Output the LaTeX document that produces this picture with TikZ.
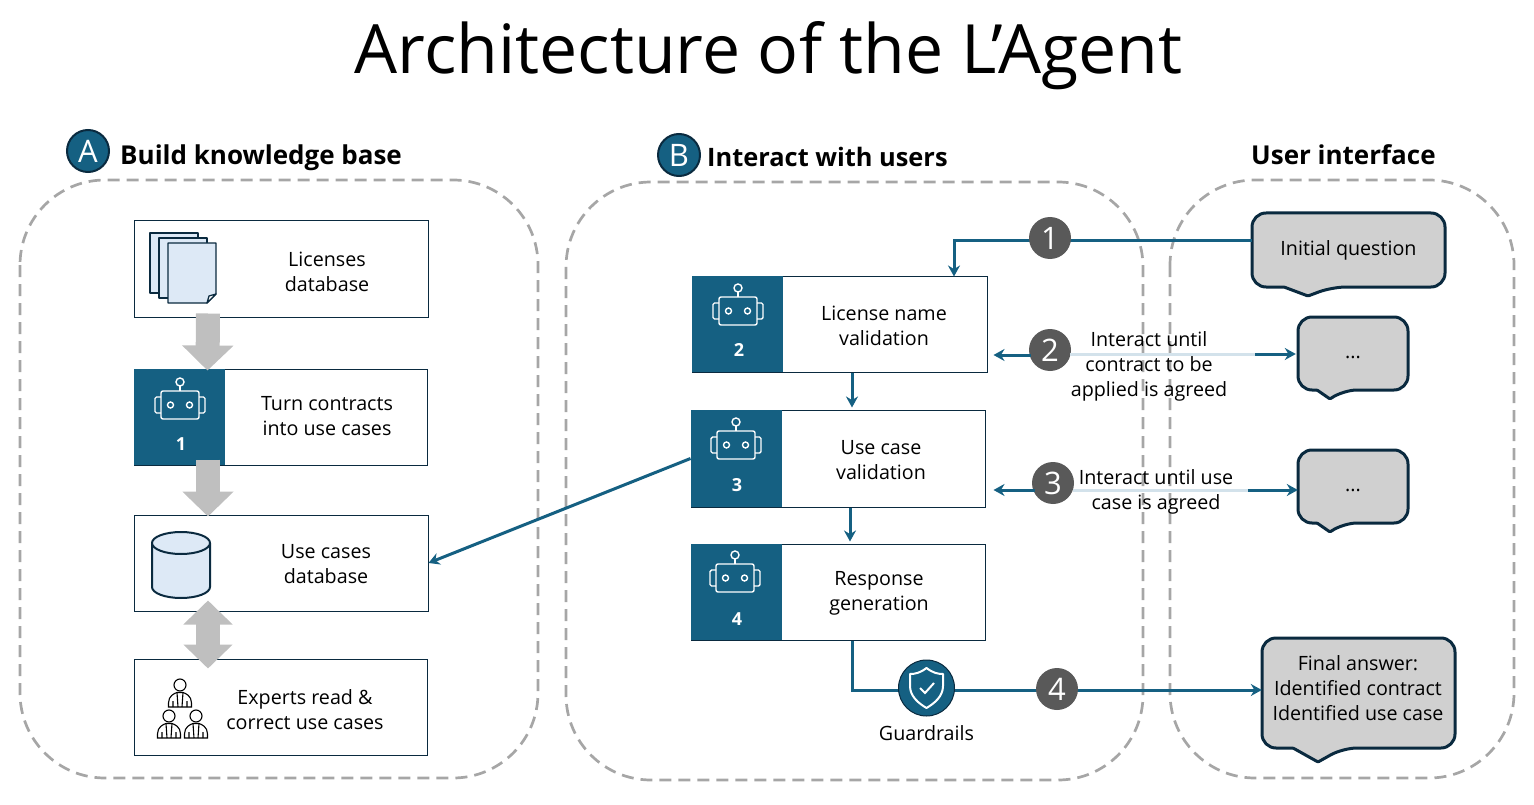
\documentclass[tikz,border=0pt]{standalone}
\usepackage{fontspec}
\setmainfont{Open Sans}
\usetikzlibrary{arrows.meta, positioning, calc}

\definecolor{teal}{HTML}{156082}
\definecolor{navy}{HTML}{0A2A3F}
\definecolor{paper}{HTML}{DDE9F6}
\definecolor{bubble}{HTML}{D0D0D0}
\definecolor{fade}{HTML}{D3E2EB}

\tikzset{
  region/.style={draw=black!35,line width=2.7pt,dash pattern=on 12pt off 7pt,rounded corners=85pt},
  boxnode/.style={draw=navy,line width=1pt,minimum width=294pt,minimum height=96pt,inner sep=0pt},
  barnode/.style={fill=teal,minimum width=91.5pt,minimum height=96.5pt,inner sep=0pt,anchor=west},
  boxtext/.style={align=center,font=\fontsize{19.7}{25}\selectfont},
  barnum/.style={text=white,font=\fontsize{18}{20}\selectfont\bfseries},
  stepnum/.style={circle,fill=black!65,text=white,minimum size=42pt,inner sep=0pt,font=\fontsize{31}{31}\selectfont},
  letternum/.style={circle,fill=teal,draw=navy,line width=2pt,text=white,minimum size=42pt,inner sep=0pt,font=\fontsize{31}{31}\selectfont},
  heading/.style={anchor=base west,inner sep=0pt,font=\fontsize{26}{30}\selectfont\bfseries},
  flow/.style={draw=teal,line width=3pt,-{Stealth[length=11pt,width=12pt]}},
  fadeline/.style={draw=fade,line width=3pt},
  bigarrow/.style={draw=black!25,line width=24pt,-{Triangle[length=25pt,width=50pt]}},
  bubbleshape/.style={draw=navy,fill=bubble,line width=3pt,line join=round},
  icon/.style={draw=navy,fill=paper,line width=1.3pt,line join=round},
  robot/.pic={
    \begin{scope}[draw=white,line width=1.4pt]
      \draw[rounded corners=2pt] (-19,-14) rectangle (19,14);
      \draw[rounded corners=1.5pt] (-19,-8) -- (-25,-8) -- (-25,8) -- (-19,8);
      \draw[rounded corners=1.5pt] (19,-8) -- (25,-8) -- (25,8) -- (19,8);
      \draw (0,-14) -- (0,-19);
      \draw (0,-23) circle (4);
      \draw (-9.5,0) circle (3);
      \draw (9.5,0) circle (3);
    \end{scope}
  },
  person/.pic={
    \begin{scope}[draw=black,line width=1.1pt]
      \draw (0,-7) circle (6);
      \draw (-11.5,15) -- (-11.5,11) .. controls (-11.5,4) and (-6,1.5) .. (-3,0.5) -- (3,0.5) .. controls (6,1.5) and (11.5,4) .. (11.5,11) -- (11.5,15) -- cycle;
      \draw (-3,0.5) -- (-2,15) (3,0.5) -- (2,15) (-7,15) -- (-7,9) (7,15) -- (7,9);
    \end{scope}
  }
}

% rounded speech box, text node is placed on top of the outline
\newcommand{\CallBox}[9]{%
  \draw[bubbleshape,rounded corners=14pt] ({(#2+#4)/2},#3) -- (#4,#3) -- (#4,#5)
    -- ({#6+#8},#5) [rounded corners=1pt] -- (#6,#7) -- ({#6-#8},#5) [rounded corners=14pt]
    -- (#2,#5) -- (#2,#3) -- cycle;
  \node[boxtext,inner sep=0pt,minimum width={(#4-#2)*1pt},minimum height={(#5-#3)*1pt}] (#1) at ({(#2+#4)/2},{(#3+#5)/2}) {#9};
}

\begin{document}
\begin{tikzpicture}[x=1pt,y=-1pt]
  \useasboundingbox (0,0) rectangle (1534,805);

  \node[inner sep=0pt,font=\fontsize{68}{70}\selectfont] (title) at (768.5,56) {Architecture of the L’Agent};

  % the three dashed regions
  \draw[region] (20,180) rectangle (538,778);
  \draw[region] (566,182) rectangle (1143,780);
  \draw[region] (1170,180) rectangle (1514,778);

  \node[letternum] (letterA) at (88,151) {A};
  \node[heading] (headA) at (120,165) {Build knowledge base};
  \node[letternum] (letterB) at (679,155) {B};
  \node[heading,font=\fontsize{25.4}{30}\selectfont\bfseries] (headB) at (707,167) {Interact with users};
  \node[heading] (headC) at (1251,165) {User interface};

  % knowledge base column
  \node[boxnode] (lic) at (281,269) {};
  \node[boxnode,minimum width=293pt] (turn) at (280.5,417) {};
  \node[boxnode] (cases) at (281,563) {};
  \node[boxnode,minimum width=293pt] (experts) at (280.5,707) {};

  \node[barnode] (bar1) at (turn.west) {};
  \pic at (180,405) {robot};
  \node[barnum] (n1) at (181,444) {1};

  \node[boxtext] (licT) at (327,272) {Licenses\\database};
  \node[boxtext] (turnT) at (327,416) {Turn contracts\\into use cases};
  \node[boxtext] (casesT) at (326,564) {Use cases\\database};
  \node[boxtext] (expertsT) at (305,710) {Experts read \&\\correct use cases};

  % pages
  \foreach \px/\py in {150/233,159/238}
    \draw[icon] (\px,\py) rectangle ({\px+48},{\py+60});
  \draw[icon] (168,243) -- (216,243) -- (216,294) -- (207,303) -- (168,303) -- cycle;
  \draw[icon,fill=white] (216,294) -- (209,296) -- (207,303) -- cycle;

  % cylinder
  \draw[icon,line width=2pt] (152,543) -- (152,587) arc[start angle=180,end angle=360,x radius=29,y radius=-11] -- (210,543);
  \draw[icon,line width=2pt] (181,543) ellipse (29 and 11);

  \pic at (180,692) {person};
  \pic at (169,723) {person};
  \pic at (196,723) {person};

  % interaction column
  \node[boxnode,minimum width=295pt] (val2) at (839.5,324) {};
  \node[boxnode,minimum height=97pt] (val3) at (838,458.5) {};
  \node[boxnode] (val4) at (838,592) {};

  \node[barnode] (bar2) at (val2.west) {};
  \node[barnode] (bar3) at (val3.west) {};
  \node[barnode] (bar4) at (val4.west) {};

  \pic at (738,311) {robot};
  \pic at (736,445) {robot};
  \pic at (735,578) {robot};
  \node[barnum] (n2) at (739,350) {2};
  \node[barnum] (n3) at (737,485) {3};
  \node[barnum] (n4) at (737,619) {4};

  \node[boxtext] (val2T) at (884,326) {License name\\validation};
  \node[boxtext] (val3T) at (881,460) {Use case\\validation};
  \node[boxtext] (val4T) at (879,593) {Response\\generation};

  % speech boxes
  \CallBox{init}{1252}{213}{1445}{287}{1308}{296}{24}{\raisebox{-7pt}{Initial question}}
  \CallBox{dotsA}{1298}{317}{1408}{390}{1330}{399}{13}{\raisebox{-11pt}{...}}
  \CallBox{dotsB}{1298}{450}{1408}{523}{1330}{532}{13}{\raisebox{-11pt}{...}}
  \CallBox{final}{1262}{638}{1455}{748}{1318}{762}{25}{}
  \node[boxtext] (finalT) at (1358,688.5) {Final answer:\\Identified contract\\Identified use case};

  % big gray arrows
  \draw[bigarrow] ([xshift=-73pt,yshift=4pt]lic.south) -- ([xshift=-73pt,yshift=-2pt]turn.north);
  \draw[bigarrow] ([xshift=-72.5pt,yshift=6pt]turn.south) -- ([xshift=-73pt,yshift=-2pt]cases.north);
  \draw[bigarrow,{Triangle[length=24pt,width=48pt]}-{Triangle[length=24pt,width=48pt]}] ([xshift=-73pt,yshift=11pt]cases.south) -- ([xshift=-72.5pt,yshift=-10pt]experts.north);

  % connectors
  \draw[flow] ([yshift=9pt]init.west) -| ([xshift=114.5pt,yshift=-1pt]val2.north);
  \draw[flow] ([xshift=12.5pt]val2.south) -- ([xshift=14pt,yshift=2pt]val3.north);
  \draw[flow] ([xshift=12pt]val3.south) -- ([xshift=12pt,yshift=2pt]val4.north);
  \draw[flow] (bar3.west) -- (cases.east);
  \draw[flow] ([xshift=14pt]val4.south) |- ([yshift=3pt]final.west);

  \node[stepnum] (step1) at (1050,238) {1};
  \node[stepnum] (step2) at (1050,350) {2};
  \node[stepnum] (step3) at (1053,483) {3};
  \node[stepnum] (step4) at (1057,689) {4};

  \node[circle,fill=teal,draw=navy,line width=1pt,minimum size=56pt,inner sep=0pt] (guard) at (926.5,688) {};
  \draw[white,line width=2pt,line join=round] (926.5,668) .. controls (933,673) and (938,674) .. (943,674) -- (943,686) .. controls (943,696) and (935,703) .. (926.5,708) .. controls (918,703) and (910,696) .. (910,686) -- (910,674) .. controls (915,674) and (920,673) .. (926.5,668) -- cycle;
  \draw[white,line width=2pt] (920,688) -- (925,693) -- (934,683);
  \node[boxtext,below=5pt of guard] (guardT) {Guardrails};

  \coordinate (fadeA) at (1255,354);
  \coordinate (fadeB) at (1248,490);
  \draw[flow] ([xshift=2pt,yshift=-5pt]step2.west) -- ([xshift=6pt,yshift=-31pt]val2.east);
  \draw[fadeline] ([xshift=-1pt]step2.east |- fadeA) -- (fadeA);
  \draw[flow] (fadeA) -- ([xshift=-2pt]fadeA -| dotsA.west);
  \draw[flow] ([xshift=3pt,yshift=-7pt]step3.west) -- ([xshift=8pt,yshift=-31.5pt]val3.east);
  \draw[fadeline] ([xshift=-1pt]step3.east |- fadeB) -- (fadeB);
  \draw[flow] (fadeB) -- (fadeB -| dotsB.west);

  \node[boxtext] (agreeA) at (1149,366) {Interact until\\contract to be\\applied is agreed};
  \node[boxtext] (agreeB) at (1156,492) {Interact until use\\case is agreed};
\end{tikzpicture}
\end{document}
